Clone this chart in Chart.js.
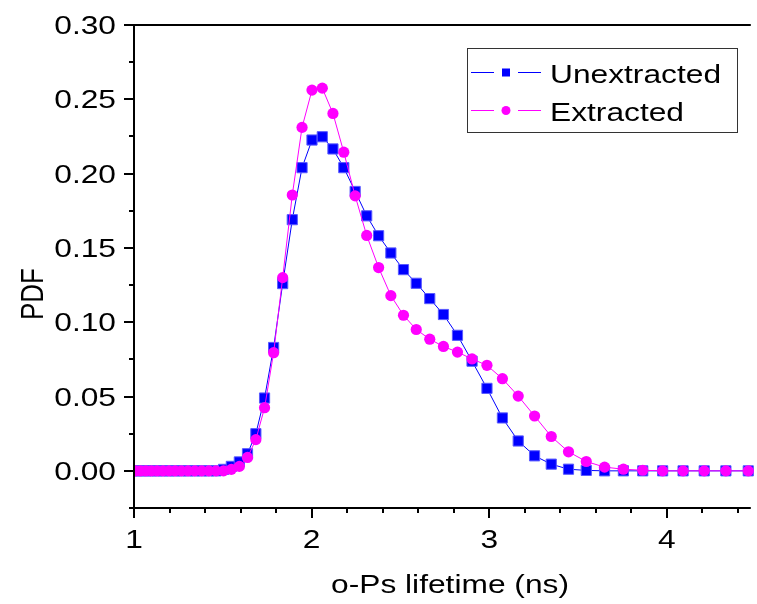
<!DOCTYPE html>
<html>
<head>
<meta charset="utf-8">
<title>o-Ps lifetime distribution</title>
<script src="https://cdn.jsdelivr.net/npm/chart.js@4.4.1/dist/chart.umd.min.js"></script>
<style>
  html, body { margin: 0; padding: 0; background: #ffffff; overflow: hidden; }
  #wrap { width: 757px; height: 604px; position: relative; }
</style>
</head>
<body>
<div id="wrap"><canvas id="chart" width="757" height="604"></canvas></div>
<script>
// o-Ps lifetime grid (ns), logarithmically spaced
const lifetimes = [
  1.008, 1.037, 1.067, 1.098, 1.130, 1.163, 1.197, 1.231, 1.267, 1.304,
  1.342, 1.381, 1.421, 1.462, 1.504, 1.548, 1.593, 1.639, 1.686, 1.735,
  1.786, 1.837, 1.891, 1.946, 2.002, 2.060, 2.120, 2.181, 2.245, 2.310,
  2.377, 2.446, 2.517, 2.589, 2.665, 2.742, 2.821, 2.903, 2.987, 3.074,
  3.163, 3.255, 3.349, 3.446, 3.546, 3.649, 3.755, 3.864, 3.976, 4.091,
  4.210, 4.332, 4.458
];

// probability density of the unextracted sample
const unextracted = [
  0, 0, 0, 0, 0, 0, 0, 0, 0, 0,
  0, 0, 0, 0, 0.001, 0.003, 0.006, 0.0115, 0.025, 0.049,
  0.083, 0.126, 0.169, 0.204, 0.2226, 0.2248, 0.2166, 0.204, 0.188, 0.1716,
  0.1582, 0.1466, 0.1354, 0.1262, 0.1159, 0.1052, 0.0912, 0.0738, 0.0555, 0.0356,
  0.0201, 0.0101, 0.0045, 0.0011, 0.0003, 0, 0, 0, 0, 0,
  0, 0, 0
];

// probability density of the extracted sample
const extracted = [
  0, 0, 0, 0, 0, 0, 0, 0, 0, 0,
  0, 0, 0, 0, 0, 0.001, 0.003, 0.009, 0.021, 0.0425,
  0.0795, 0.130, 0.1856, 0.2311, 0.2562, 0.2575, 0.2405, 0.2144, 0.185, 0.1584,
  0.1368, 0.1179, 0.1047, 0.0951, 0.0886, 0.0837, 0.0799, 0.0753, 0.071, 0.062,
  0.0503, 0.0369, 0.0231, 0.0128, 0.0063, 0.0025, 0.0011, 0.0004, 0, 0,
  0, 0, 0
];

const seriesNames = ['Unextracted', 'Extracted'];
const xMajorTicks = [1, 2, 3, 4];
const yMajorTicks = [0.00, 0.05, 0.10, 0.15, 0.20, 0.25, 0.30];

const BLUE = '#0000ff';
const MAGENTA = '#ff00ff';
const FONT = '"Liberation Sans", Arial, Helvetica, sans-serif';
const TEXT_STRETCH = 1.22;

const toPoints = (ys) => lifetimes.map((x, i) => ({ x: x, y: ys[i] }));

function drawText(ctx, text, x, y, align, baseline, size, rotate) {
  ctx.save();
  ctx.translate(x, y);
  ctx.scale(TEXT_STRETCH, 1);
  if (rotate) ctx.rotate(-Math.PI / 2);
  ctx.font = size + 'px ' + FONT;
  ctx.fillStyle = '#000000';
  ctx.textAlign = align;
  ctx.textBaseline = baseline;
  ctx.fillText(text, 0, 0);
  ctx.restore();
}

// Frame, ticks, tick labels, axis titles and the legend box
const framePlugin = {
  id: 'frame',
  afterDraw(chart) {
    const ctx = chart.ctx;
    const xs = chart.scales.x;
    const ys = chart.scales.y;
    const area = chart.chartArea;
    const left = Math.round(xs.getPixelForValue(xs.min));
    const bottom = Math.round(ys.getPixelForValue(ys.min));
    const top = Math.round(ys.getPixelForValue(ys.max));

    ctx.save();
    ctx.strokeStyle = '#000000';
    ctx.lineWidth = 2;
    ctx.lineCap = 'butt';

    // axis lines
    ctx.beginPath();
    ctx.moveTo(left, top);
    ctx.lineTo(left, bottom);
    ctx.moveTo(left - 1, bottom);
    ctx.lineTo(area.right + 2, bottom);
    ctx.moveTo(left - 1, top);
    ctx.lineTo(area.right + 2, top);
    ctx.stroke();

    // x ticks: major every 1, minor every 0.2
    ctx.beginPath();
    for (let k = 0; k * 0.2 + xs.min <= xs.max + 1e-9; k++) {
      const v = xs.min + k * 0.2;
      const px = Math.round(xs.getPixelForValue(v));
      const major = k % 5 === 0;
      ctx.moveTo(px, bottom);
      ctx.lineTo(px, bottom + (major ? 10 : 5));
    }
    // y ticks: major every 0.05, minor every 0.025
    for (let k = 0; ys.min + k * 0.025 <= ys.max + 1e-9; k++) {
      const v = ys.min + k * 0.025;
      const py = Math.round(ys.getPixelForValue(v));
      const major = k % 2 === 1;
      ctx.moveTo(left, py);
      ctx.lineTo(left - (major ? 10 : 5), py);
    }
    ctx.stroke();
    ctx.restore();

    // tick labels
    xMajorTicks.forEach((v) => {
      drawText(ctx, String(v), xs.getPixelForValue(v), bottom + 40, 'center', 'alphabetic', 26, false);
    });
    yMajorTicks.forEach((v) => {
      drawText(ctx, v.toFixed(2), left - 18, ys.getPixelForValue(v) + 9, 'right', 'alphabetic', 26, false);
    });

    // axis titles
    drawText(ctx, 'o-Ps lifetime (ns)', 450, 593, 'center', 'alphabetic', 26, false);
    drawText(ctx, 'PDF', 43, 294, 'center', 'alphabetic', 26, true);

    // legend
    ctx.save();
    ctx.strokeStyle = '#333333';
    ctx.lineWidth = 1;
    ctx.strokeRect(467.5, 48.5, 270, 84);
    const rows = [
      { name: seriesNames[0], color: BLUE, y: 72.5, shape: 'rect' },
      { name: seriesNames[1], color: MAGENTA, y: 110.5, shape: 'circle' }
    ];
    rows.forEach((r) => {
      ctx.strokeStyle = r.color;
      ctx.lineWidth = 1;
      ctx.beginPath();
      ctx.moveTo(471, r.y);
      ctx.lineTo(494, r.y);
      ctx.moveTo(518, r.y);
      ctx.lineTo(541, r.y);
      ctx.stroke();
      ctx.fillStyle = r.color;
      if (r.shape === 'rect') {
        ctx.fillRect(502, r.y - 4, 8, 8);
      } else {
        ctx.beginPath();
        ctx.arc(506, r.y, 4.5, 0, Math.PI * 2);
        ctx.fill();
      }
      drawText(ctx, r.name, 550, r.y + 10, 'left', 'alphabetic', 26, false);
    });
    ctx.restore();
  }
};

new Chart(document.getElementById('chart'), {
  type: 'scatter',
  data: {
    datasets: [
      {
        label: seriesNames[0],
        data: toPoints(unextracted),
        showLine: true,
        borderColor: BLUE,
        borderWidth: 1,
        backgroundColor: BLUE,
        pointStyle: 'rect',
        pointRadius: 7.2,
        pointBorderWidth: 1,
        pointBorderColor: '#5a5aff',
        pointBackgroundColor: BLUE,
        tension: 0,
        order: 2,
        clip: { left: 0, top: false, right: false, bottom: false }
      },
      {
        label: seriesNames[1],
        data: toPoints(extracted),
        showLine: true,
        borderColor: MAGENTA,
        borderWidth: 1,
        backgroundColor: MAGENTA,
        pointStyle: 'circle',
        pointRadius: 5.6,
        pointBorderWidth: 0,
        pointBackgroundColor: MAGENTA,
        tension: 0,
        order: 1,
        clip: { left: 0, top: false, right: false, bottom: false }
      }
    ]
  },
  options: {
    responsive: false,
    animation: false,
    devicePixelRatio: 1,
    layout: { padding: { left: 134, top: 25, right: 0, bottom: 96 } },
    plugins: {
      legend: { display: false },
      tooltip: { enabled: false }
    },
    scales: {
      x: { type: 'linear', display: false, min: 1, max: 4.461 },
      y: { type: 'linear', display: false, min: -0.025, max: 0.30 }
    }
  },
  plugins: [framePlugin]
});
</script>
</body>
</html>
